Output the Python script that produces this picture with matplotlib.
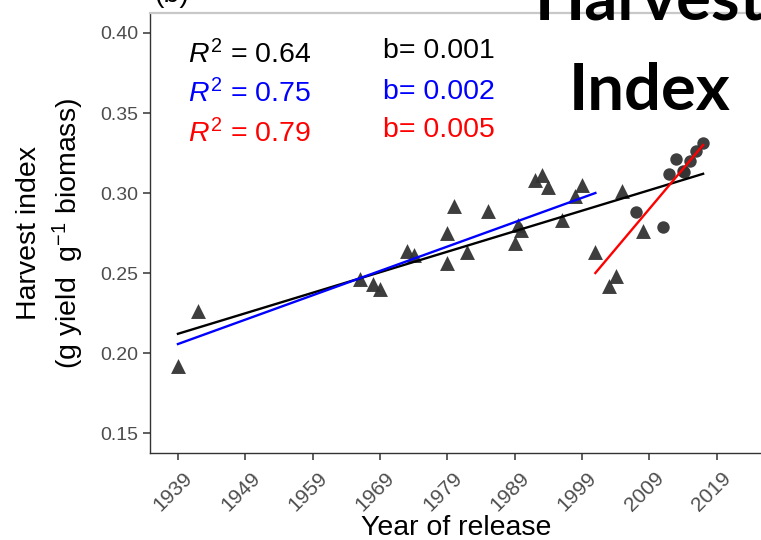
import numpy as np
import matplotlib.pyplot as plt
from matplotlib.transforms import ScaledTranslation

# -------------------------
# Data
# -------------------------
tri_year = [1939, 1942, 1966, 1968, 1969, 1973, 1974, 1979, 1979, 1980,
            1982, 1985, 1989, 1989.5, 1990, 1992, 1993, 1994, 1996, 1998,
            1999, 2001, 2003, 2004, 2005, 2008]
tri_hi = [0.192, 0.226, 0.246, 0.243, 0.240, 0.264, 0.261, 0.275, 0.256, 0.292,
          0.263, 0.289, 0.269, 0.280, 0.277, 0.308, 0.311, 0.304, 0.283, 0.298,
          0.305, 0.263, 0.242, 0.248, 0.301, 0.276]

circ_year = [2007, 2011, 2012, 2013, 2014, 2014.2, 2015, 2016, 2017]
circ_hi = [0.288, 0.279, 0.312, 0.321, 0.314, 0.313, 0.320, 0.326, 0.331]

# fitted lines (end points of each regression)
fit_all_year = [1939, 2017]
fit_all_hi = [0.212, 0.312]
fit_old_year = [1939, 2001]
fit_old_hi = [0.2056, 0.300]
fit_new_year = [2001, 2017]
fit_new_hi = [0.250, 0.330]

r2_labels = ['0.64', '0.75', '0.79']
b_labels = ['0.001', '0.002', '0.005']
fit_colors = ['black', 'blue', 'red']

x_ticks = list(range(1939, 2020, 10))
y_ticks = [0.15, 0.20, 0.25, 0.30, 0.35, 0.40]

# -------------------------
# Plotting
# -------------------------
plt.rcParams['font.family'] = ['Liberation Sans', 'DejaVu Sans']
plt.rcParams['mathtext.fontset'] = 'custom'
plt.rcParams['mathtext.rm'] = 'Liberation Sans'
plt.rcParams['mathtext.it'] = 'Liberation Sans:italic'

W, H = 761, 540
fig = plt.figure(figsize=(W / 100, H / 100), dpi=100)
ax = fig.add_axes([150 / W, (H - 453) / H, (W - 150) / W, (453 - 13) / H])

ax.scatter(tri_year, tri_hi, marker='^', s=115, color='#333333', alpha=0.95,
           linewidths=0, zorder=3)
ax.scatter(circ_year, circ_hi, marker='o', s=80, color='#333333', alpha=0.95,
           linewidths=0, zorder=3)

ax.plot(fit_all_year, fit_all_hi, color='black', lw=1.7, zorder=4)
ax.plot(fit_old_year, fit_old_hi, color='blue', lw=1.7, zorder=4)
ax.plot(fit_new_year, fit_new_hi, color='red', lw=1.7, zorder=4)

ax.set_xlim(1934.85, 2025.6)
ax.set_ylim(0.1375, 0.4125)
ax.set_xticks(x_ticks)
ax.set_xticklabels([str(t) for t in x_ticks], rotation=45, ha='right',
                   rotation_mode='anchor')
ax.set_yticks(y_ticks)
ax.set_yticklabels(['%.2f' % v for v in y_ticks])
ax.tick_params(labelsize=14, labelcolor='#4d4d4d', color='#333333',
               length=5, width=1.1)
ax.tick_params(axis='x', pad=6, labelsize=15)
# nudge rotated labels to the right like ggplot's hjust=1
shift = ScaledTranslation(5 / 100, 0, fig.dpi_scale_trans)
for lab in ax.get_xticklabels():
    lab.set_transform(lab.get_transform() + shift)

for side in ['left', 'bottom']:
    ax.spines[side].set_color('#333333')
    ax.spines[side].set_linewidth(1.0)
ax.spines['right'].set_visible(False)
ax.spines['top'].set_color('#c8c8c8')
ax.spines['top'].set_linewidth(1.6)

# R^2 and slope annotations
r2_base = [0.38125, 0.35688, 0.33188]
b_base = [0.3844, 0.35875, 0.335]
for i in range(3):
    ax.text(1940.5, r2_base[i], r'$R^2$ = ' + r2_labels[i], color=fit_colors[i],
            fontsize=20.5, va='baseline', ha='left')
    ax.text(1969.4, b_base[i], 'b= ' + b_labels[i], color=fit_colors[i],
            fontsize=20.5, va='baseline', ha='left')

# axis titles
fig.text(456 / W, 1 - 535 / H, 'Year of release', fontsize=20.5,
         ha='center', va='baseline')
fig.text(29 / W, 1 - 233 / H, 'Harvest index', rotation=90, fontsize=20.5,
         ha='center', va='center')
fig.text(68 / W, 1 - 233 / H, r'(g yield  g$^{-1}$ biomass)', rotation=90,
         fontsize=20.5, ha='center', va='center')

# panel tag and slide title (cropped at top)
fig.text(172 / W, 1 - 2 / H, '(b)', fontsize=20.5, ha='center', va='baseline')
fig.text(650 / W, 1 - 20 / H, 'Harvest', family='Lato', weight='bold',
         fontsize=47, ha='center', va='baseline')
fig.text(650 / W, 1 - 110 / H, 'Index', family='Lato', weight='bold',
         fontsize=47, ha='center', va='baseline')

plt.savefig('out.png', dpi=100)
